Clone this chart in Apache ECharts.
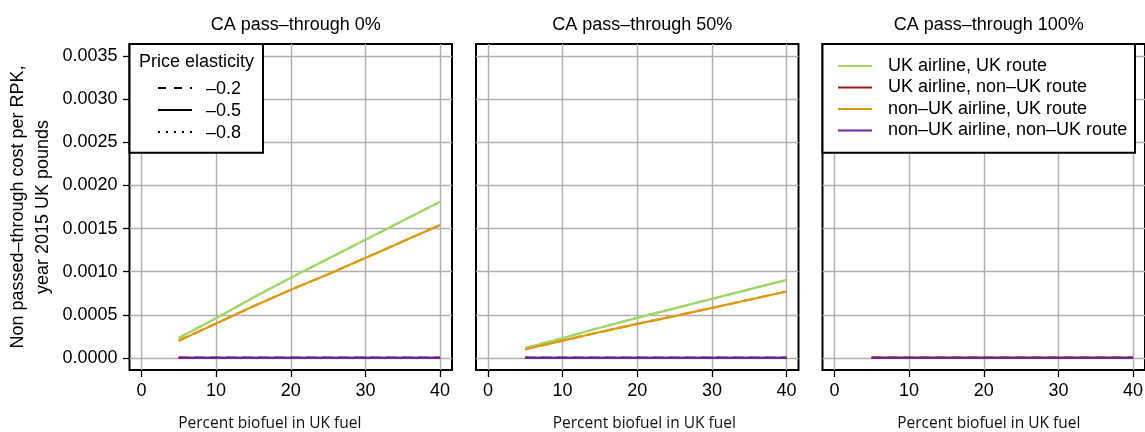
<!DOCTYPE html>
<html>
<head>
<meta charset="utf-8">
<script src="https://cdn.jsdelivr.net/npm/echarts@6/dist/echarts.min.js"></script>
<style>
  html, body { margin: 0; padding: 0; background: #fff; }
  #chart { width: 1145px; height: 432px; }
</style>
</head>
<body>
<div id="chart"></div>
<script>
// Share of biofuel in UK aviation fuel (%)
const biofuelPct = [5, 10, 15, 20, 25, 30, 35, 40];

// Non passed-through cost per RPK (2015 GBP), CA pass-through 0%
const ukAirlineUkRoute0       = [0.00023, 0.00046, 0.00070, 0.00093, 0.00115, 0.00137, 0.00159, 0.00181];
const ukAirlineNonUkRoute0    = [0, 0, 0, 0, 0, 0, 0, 0];
const nonUkAirlineUkRoute0    = [0.00020, 0.00040, 0.00060, 0.00079, 0.00097, 0.00116, 0.00135, 0.00154];
const nonUkAirlineNonUkRoute0 = [0, 0, 0, 0, 0, 0, 0, 0];

// CA pass-through 50%
const ukAirlineUkRoute50       = [0.000115, 0.00023, 0.00035, 0.000465, 0.000575, 0.000685, 0.000795, 0.000905];
const ukAirlineNonUkRoute50    = [0, 0, 0, 0, 0, 0, 0, 0];
const nonUkAirlineUkRoute50    = [0.00010, 0.00020, 0.00030, 0.000395, 0.000485, 0.00058, 0.000675, 0.00077];
const nonUkAirlineNonUkRoute50 = [0, 0, 0, 0, 0, 0, 0, 0];

// CA pass-through 100%
const ukAirlineUkRoute100       = [0, 0, 0, 0, 0, 0, 0, 0];
const ukAirlineNonUkRoute100    = [0, 0, 0, 0, 0, 0, 0, 0];
const nonUkAirlineUkRoute100    = [0, 0, 0, 0, 0, 0, 0, 0];
const nonUkAirlineNonUkRoute100 = [0, 0, 0, 0, 0, 0, 0, 0];

// Labels and ticks
const panelTitles = ['CA pass\u2013through 0%', 'CA pass\u2013through 50%', 'CA pass\u2013through 100%'];
const groupNames = ['UK airline, UK route', 'UK airline, non\u2013UK route', 'non\u2013UK airline, UK route', 'non\u2013UK airline, non\u2013UK route'];
const elasticities = ['\u20130.2', '\u20130.5', '\u20130.8'];
const xTicks = [0, 10, 20, 30, 40];
const yTicks = [0, 0.0005, 0.0010, 0.0015, 0.0020, 0.0025, 0.0030, 0.0035];

const panelData = [
  [ukAirlineUkRoute0, ukAirlineNonUkRoute0, nonUkAirlineUkRoute0, nonUkAirlineNonUkRoute0],
  [ukAirlineUkRoute50, ukAirlineNonUkRoute50, nonUkAirlineUkRoute50, nonUkAirlineNonUkRoute50],
  [ukAirlineUkRoute100, ukAirlineNonUkRoute100, nonUkAirlineUkRoute100, nonUkAirlineNonUkRoute100]
];

const groupColors = ['#a2d66a', '#9b1b1b', '#dc9a14', '#6c2790'];
const dashStyles = [[8, 8], 'solid', [2, 6]];

const FONT = '"Liberation Sans", Arial, sans-serif';
const panelLeft = [129.5, 476, 822.5];
const panelWidth = 322.5;
const panelTop = 44;
const panelHeight = 326;
// horizontal nudge of each x-axis caption (padding: [top, right, bottom, left])
const xNamePadding = [[0, 42, 0, 0], [0, 0, 0, 14], [0, 0, 0, 10]];

const grids = panelLeft.map(l => ({
  left: l, top: panelTop, width: panelWidth, height: panelHeight,
  outerBoundsMode: 'none', containLabel: false,
  show: true, borderColor: '#000', borderWidth: 2, backgroundColor: 'transparent'
}));

const xAxes = panelLeft.map((l, i) => ({
  type: 'value', gridIndex: i, min: -1.6, max: 41.6,
  name: 'Percent biofuel in UK fuel', nameLocation: 'middle', nameGap: 46,
  nameTextStyle: { fontFamily: '"Open Sans", sans-serif', fontSize: 15.5, color: '#111', padding: xNamePadding[i] },
  axisLine: { show: false, onZero: false },
  axisTick: { show: true, customValues: xTicks, length: 7, lineStyle: { color: '#000', width: 1.3 } },
  axisLabel: { customValues: xTicks, fontFamily: FONT, fontSize: 18, color: '#000', margin: 12 },
  splitLine: { show: true, lineStyle: { color: '#b0b0b0', width: 1.4 } }
}));

const yAxes = panelLeft.map((l, i) => ({
  type: 'value', gridIndex: i, min: -0.00014, max: 0.00364,
  name: i === 0 ? 'Non passed\u2013through cost per RPK,\nyear 2015 UK pounds' : '',
  nameLocation: 'middle', nameRotate: 90, nameGap: 74,
  nameTextStyle: { fontFamily: FONT, fontSize: 18, color: '#000', lineHeight: 25 },
  axisLine: { show: false, onZero: false },
  axisTick: { show: i === 0, customValues: yTicks, length: 6.5, lineStyle: { color: '#000', width: 1.3 } },
  axisLabel: {
    show: i === 0, customValues: yTicks, fontFamily: FONT, fontSize: 18, color: '#000', margin: 12,
    formatter: v => v.toFixed(4)
  },
  splitLine: { show: true, lineStyle: { color: '#b0b0b0', width: 1.4 } }
}));

const series = [];
panelData.forEach((groups, p) => {
  groups.forEach((vals, g) => {
    elasticities.forEach((e, k) => {
      series.push({
        type: 'line', name: groupNames[g], xAxisIndex: p, yAxisIndex: p,
        data: biofuelPct.map((x, j) => [x, vals[j]]),
        symbol: 'none', silent: true, animation: false, z: 2,
        lineStyle: { color: groupColors[g], width: 2.2, type: dashStyles[k] },
        itemStyle: { color: groupColors[g] }
      });
    });
  });
});

const titles = panelTitles.map((t, i) => ({
  text: t, left: panelLeft[i] + panelWidth / 2, top: 11, textAlign: 'center',
  textStyle: { fontFamily: FONT, fontSize: 18, fontWeight: 'normal', color: '#000' }
}));

// Price-elasticity key (line type) in the first panel
const keyRows = [88, 110, 132];
const elasticityKey = [
  { type: 'rect', z: 5, shape: { x: 129.5, y: 44, width: 133.5, height: 108.7 },
    style: { fill: '#fff', stroke: '#000', lineWidth: 2 } },
  { type: 'text', z: 6, x: 139, y: 62,
    style: { text: 'Price elasticity', font: '18px ' + FONT, fill: '#000', verticalAlign: 'middle' } }
];
elasticities.forEach((e, k) => {
  elasticityKey.push({ type: 'line', z: 6, shape: { x1: 158, y1: keyRows[k], x2: 192, y2: keyRows[k] },
    style: { stroke: '#000', lineWidth: 2, lineDash: dashStyles[k] === 'solid' ? null : dashStyles[k] } });
  elasticityKey.push({ type: 'text', z: 6, x: 206, y: keyRows[k] + 1,
    style: { text: e, font: '18px ' + FONT, fill: '#000', verticalAlign: 'middle' } });
});
// Frame behind the route/airline legend in the third panel
elasticityKey.push({ type: 'rect', z: 5, shape: { x: 822.5, y: 44, width: 312.5, height: 108.7 },
  style: { fill: '#fff', stroke: '#000', lineWidth: 2 } });

const chart = echarts.init(document.getElementById('chart'), null, { renderer: 'canvas' });
chart.setOption({
  animation: false,
  backgroundColor: '#fff',
  title: titles,
  grid: grids,
  xAxis: xAxes,
  yAxis: yAxes,
  legend: {
    orient: 'vertical', left: 838, top: 57, z: 8,
    selectedMode: false, padding: 0,
    itemWidth: 34, itemHeight: 14, itemGap: 3.5,
    textStyle: { fontFamily: FONT, fontSize: 18, color: '#000', lineHeight: 18, padding: [0, 0, 0, 11] },
    data: groupNames.map((n, g) => ({
      name: n, icon: 'path://M0,0L34,0L34,2L0,2Z',
      itemStyle: { color: groupColors[g] },
      lineStyle: { color: groupColors[g], width: 2, type: 'solid' }
    }))
  },
  graphic: elasticityKey,
  series: series
});
</script>
</body>
</html>
